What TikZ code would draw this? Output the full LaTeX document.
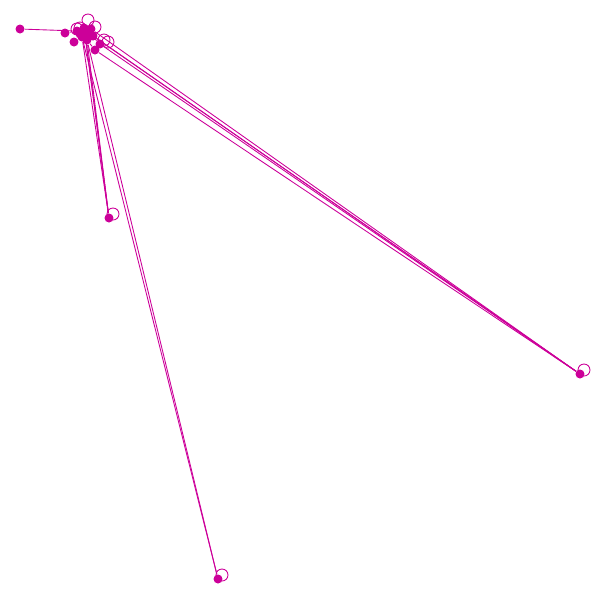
\documentclass[tikz,border=0pt]{standalone}
\usepackage{xcolor}
\usepackage{tikz}
\usetikzlibrary{positioning,calc}
\definecolor{graphpink}{RGB}{204,0,153}
\tikzset{
    vert/.style={circle, fill=graphpink, inner sep=0pt, minimum size=0.18cm},
    link/.style={draw=graphpink, line width=0.5pt},
    selfloop/.style={draw=graphpink, line width=0.5pt}
}

\begin{document}
\begin{tikzpicture}[x=0.02cm, y=-0.02cm]
    % Canvas
    \useasboundingbox (0,0) rectangle (600,600);

    % Vertices
    \node[vert] (a) at (20,29) {};
    \node[vert] (c1) at (65,33) {};
    \node[vert] (c2) at (74,42) {};
    \node[vert] (c3) at (77,31) {};
    \node[vert] (c4) at (84,28) {};
    \node[vert] (c5) at (89,33) {};
    \node[vert] (c6) at (82,37) {};
    \node[vert] (c7) at (91,29) {};
    \node[vert] (c8) at (95,50) {};
    \node[vert] (c9) at (100,44) {};
    \node[vert] (c10) at (87,40) {};
    \node[vert] (c11) at (85,33) {};
    \node[vert] (c12) at (80,34) {};
    \node[vert] (c13) at (93,36) {};
    \node[vert] (b) at (109,218) {};
    \node[vert] (c) at (580,374) {};
    \node[vert] (d) at (218,579) {};

    % Edges inside the cluster
    \draw[link] (a) -- (c3);
    \draw[link] (c1) -- (c3);
    \draw[link] (c2) -- (c6);
    \draw[link] (c3) -- (c4);
    \draw[link] (c4) -- (c5);
    \draw[link] (c5) -- (c10);
    \draw[link] (c7) -- (c5);
    \draw[link] (c8) -- (c10);
    \draw[link] (c9) -- (c5);
    \draw[link] (c11) -- (c13);
    \draw[link] (c12) -- (c10);

    % Long edges
    \draw[link] (c5) -- (c);
    \draw[link] (c7) -- (c);
    \draw[link] (c9) -- (c);
    \draw[link] (c8) -- (c);
    \draw[link] (c13) -- (c);
    \draw[link] (c4) -- (b);
    \draw[link] (c6) -- (b);
    \draw[link] (c10) -- (b);
    \draw[link] (c11) -- (b);
    \draw[link] (c6) -- (d);
    \draw[link] (c10) -- (d);

    % Self loops
    \draw[selfloop] (b) ++(4,-4) circle[radius=0.12cm];
    \draw[selfloop] (c) ++(4,-4) circle[radius=0.12cm];
    \draw[selfloop] (d) ++(4,-4) circle[radius=0.12cm];
    \draw[selfloop] (c4) ++(4,-8) circle[radius=0.12cm];
    \draw[selfloop] (c7) ++(4,-2) circle[radius=0.12cm];
    \draw[selfloop] (c3) ++(0,-2) circle[radius=0.12cm];
    \draw[selfloop] (c12) ++(0,-6) circle[radius=0.12cm];
    \draw[selfloop] (c9) ++(4,-4) circle[radius=0.12cm];
    \draw[selfloop] (c9) ++(8,-2) circle[radius=0.12cm];
\end{tikzpicture}
\end{document}
